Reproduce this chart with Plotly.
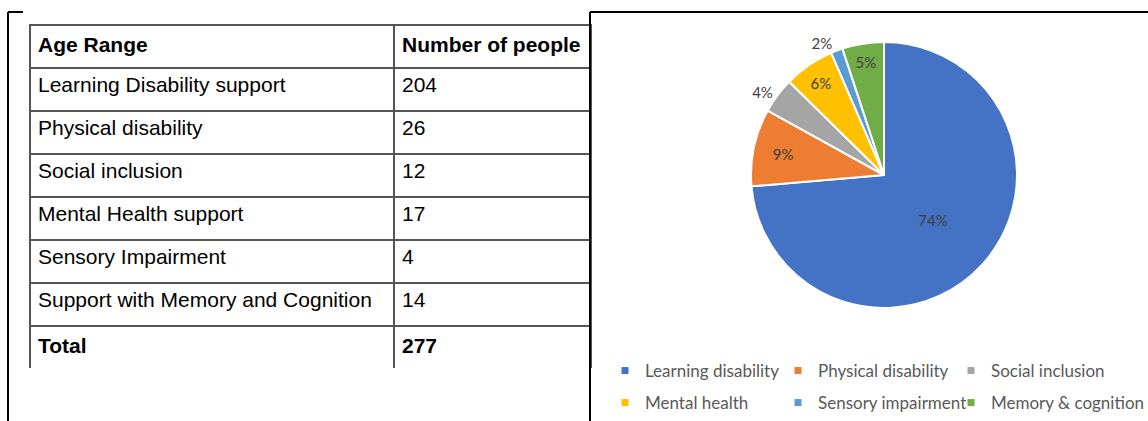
import plotly.graph_objects as go

# ---- data ----
table_header = ["<b>Age\u00a0Range</b>", "<b>Number\u00a0of\u00a0people</b>"]
table_categories = ["Learning Disability support", "Physical disability", "Social inclusion",
                    "Mental Health support", "Sensory Impairment",
                    "Support with Memory and Cognition", "<b>Total</b>"]
table_counts = ["204", "26", "12", "17", "4", "14", "<b>277</b>"]

pie_labels = ["Learning disability", "Physical disability", "Social inclusion",
              "Mental health", "Sensory impairment", "Memory & cognition"]
pie_values = [204, 26, 12, 17, 4, 14]
pie_pct_text = ["74%", "9%", "4%", "6%", "2%", "5%"]
pie_colors = ["#4472C4", "#ED7D31", "#A5A5A5", "#FFC000", "#5B9BD5", "#70AD47"]
pie_textpos = ["inside", "inside", "outside", "inside", "outside", "inside"]

W, H = 1148, 421

def px(x):
    return x / W

def py(y):
    return 1 - y / H

TABLE_FONT = "Liberation Sans, Arial, sans-serif"
LEGEND_FONT = "Lato, Carlito, Calibri, sans-serif"

fig = go.Figure()

fig.add_trace(go.Table(
    domain=dict(x=[px(30), px(591)], y=[py(368), py(25)]),
    columnwidth=[364, 197],
    header=dict(values=table_header, height=43, align="left",
                line=dict(color="#555555", width=1.5), fill=dict(color="white"),
                font=dict(family=TABLE_FONT, size=21, color="black")),
    cells=dict(values=[table_categories, table_counts], height=43, align="left",
               line=dict(color="#555555", width=1.5), fill=dict(color="white"),
               font=dict(family=TABLE_FONT, size=21, color="black")),
))

fig.add_trace(go.Pie(
    labels=pie_labels, values=pie_values, text=pie_pct_text, textinfo="text",
    textposition=pie_textpos, insidetextorientation="horizontal",
    sort=False, direction="clockwise", rotation=0,
    marker=dict(colors=pie_colors, line=dict(color="white", width=2)),
    textfont=dict(family=LEGEND_FONT, size=15, color="#404040"),
    hoverinfo="label+value", showlegend=False,
    domain=dict(x=[px(884 - 133), px(884 + 133)], y=[py(308), py(42)]),
))

# legend entries (two rows of three, as in the reference)
for i, (lab, col) in enumerate(zip(pie_labels, pie_colors)):
    fig.add_trace(go.Scatter(
        x=[None], y=[None], mode="markers", name=lab,
        marker=dict(symbol="square", size=7, color=col),
        legend="legend" if i < 3 else "legend2", hoverinfo="skip",
        legendwidth=150 if i % 3 == 2 else None,
    ))

# frame lines
line_style = dict(color="black", width=2)
for (x0, y0, x1, y1) in [(8, 12, 8, 421), (8, 12, 23, 12), (590, 12, 590, 421), (590, 12, 1148, 12)]:
    fig.add_shape(type="line", xref="paper", yref="paper",
                  x0=px(x0), y0=py(y0), x1=px(x1), y1=py(y1), line=line_style)

legend_common = dict(orientation="h", xanchor="left", yanchor="middle",
                     entrywidth=128, entrywidthmode="pixels", bgcolor="rgba(0,0,0,0)",
                     font=dict(family=LEGEND_FONT, size=17, color="#595959"))

fig.update_layout(
    width=W, height=H, margin=dict(l=0, r=0, t=0, b=0),
    paper_bgcolor="white", plot_bgcolor="white",
    xaxis=dict(visible=False), yaxis=dict(visible=False),
    legend=dict(x=px(605), y=py(371), **legend_common),
    legend2=dict(x=px(605), y=py(403), **legend_common),
)

fig.write_html("out.html")
